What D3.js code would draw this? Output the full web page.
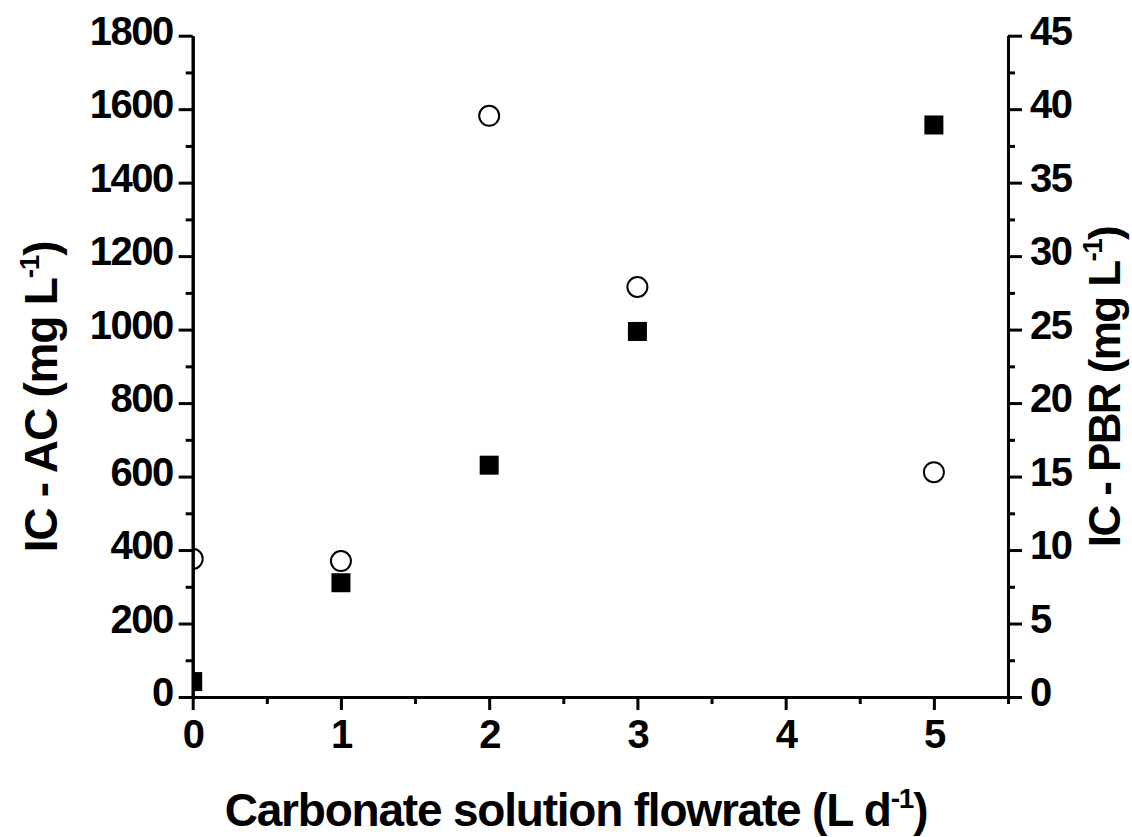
<!DOCTYPE html>
<html lang="en">
<head>
    <meta charset="UTF-8">
    <title>IC vs carbonate solution flowrate</title>
    <script src="https://d3js.org/d3.v7.min.js"></script>
</head>

<style>
    body {
        margin: 0;
        padding: 0;
        background: #fff;
    }

    svg {
        display: block;
        font-family: "Liberation Sans", Arial, sans-serif;
        font-weight: bold;
    }

    .axis path,
    .axis line {
        stroke: #000;
        stroke-width: 3px;
    }

    .axis text {
        font-size: 40px;
        letter-spacing: -1.5px;
        fill: #000;
    }

    .title {
        font-size: 46px;
        letter-spacing: -1.2px;
        fill: #000;
    }
</style>

<body>
<div class="chart"></div>

<script>
  /** data */
  var flowrate = [0, 1, 2, 3, 5];            // L d-1
  var icAC = [42, 311, 631, 995, 1557];      // mg L-1, left axis (squares)
  var icPBR = [9.4, 9.25, 39.55, 27.9, 15.3]; // mg L-1, right axis (circles)

  var xTicks = [0, 1, 2, 3, 4, 5];
  var xMinor = [0.5, 1.5, 2.5, 3.5, 4.5, 5.5];
  var leftTicks = [0, 200, 400, 600, 800, 1000, 1200, 1400, 1600, 1800];
  var leftMinor = [100, 300, 500, 700, 900, 1100, 1300, 1500, 1700];
  var rightTicks = [0, 5, 10, 15, 20, 25, 30, 35, 40, 45];
  var rightMinor = [2.5, 7.5, 12.5, 17.5, 22.5, 27.5, 32.5, 37.5, 42.5];

  /** LAYOUT */
  var width = 1132, height = 837;
  var margin = {top: 35.7, right: 124, bottom: 140, left: 192.7};
  var innerW = width - margin.left - margin.right;
  var innerH = height - margin.top - margin.bottom;

  var svg = d3.select('.chart').append('svg')
    .attr('width', width)
    .attr('height', height);

  var g = svg.append('g')
    .attr('transform', 'translate(' + margin.left + ',' + margin.top + ')');

  var x = d3.scaleLinear().domain([0, 5.5]).range([0, innerW]);
  var yLeft = d3.scaleLinear().domain([0, 1800]).range([innerH, 0]);
  var yRight = d3.scaleLinear().domain([0, 45]).range([innerH, 0]);

  /** clip so the points sitting on x = 0 are cut by the left axis */
  g.append('clipPath').attr('id', 'plotClip')
    .append('rect')
    .attr('width', innerW)
    .attr('height', innerH);

  var pts = g.append('g').attr('clip-path', 'url(#plotClip)');

  var sq = 19;
  pts.selectAll('rect.ac')
    .data(flowrate)
    .enter().append('rect')
    .classed('ac', true)
    .attr('x', function (d) { return x(d) - sq / 2; })
    .attr('y', function (d, i) { return yLeft(icAC[i]) - sq / 2; })
    .attr('width', sq)
    .attr('height', sq)
    .attr('fill', '#000');

  pts.selectAll('circle.pbr')
    .data(flowrate)
    .enter().append('circle')
    .classed('pbr', true)
    .attr('cx', function (d) { return x(d); })
    .attr('cy', function (d, i) { return yRight(icPBR[i]); })
    .attr('r', 10)
    .attr('fill', '#fff')
    .attr('stroke', '#000')
    .attr('stroke-width', 2);

  /** AXES - minor ticks first, majors with labels on top */
  function minor(axis, vals) {
    return axis.tickValues(vals).tickSizeOuter(0).tickFormat('');
  }

  g.append('g').attr('class', 'axis')
    .attr('transform', 'translate(0,' + innerH + ')')
    .call(minor(d3.axisBottom(x), xMinor).tickSizeInner(7));
  g.append('g').attr('class', 'axis')
    .call(minor(d3.axisLeft(yLeft), leftMinor).tickSizeInner(7));
  g.append('g').attr('class', 'axis')
    .attr('transform', 'translate(' + innerW + ',0)')
    .call(minor(d3.axisRight(yRight), rightMinor).tickSizeInner(7));

  var xAxis = g.append('g').attr('class', 'axis')
    .attr('transform', 'translate(0,' + innerH + ')')
    .call(d3.axisBottom(x).tickValues(xTicks).tickSizeInner(13).tickSizeOuter(0)
      .tickPadding(10).tickFormat(d3.format('d')));
  xAxis.selectAll('text').attr('dy', '0.71em');

  var leftAxis = g.append('g').attr('class', 'axis')
    .call(d3.axisLeft(yLeft).tickValues(leftTicks).tickSizeInner(14).tickSizeOuter(0)
      .tickPadding(6).tickFormat(d3.format('d')));
  leftAxis.selectAll('text').attr('dy', '0.22em');

  var rightAxis = g.append('g').attr('class', 'axis')
    .attr('transform', 'translate(' + innerW + ',0)')
    .call(d3.axisRight(yRight).tickValues(rightTicks).tickSizeInner(14).tickSizeOuter(0)
      .tickPadding(8).tickFormat(d3.format('d')));
  rightAxis.selectAll('text').attr('dy', '0.22em');

  /** TITLES with a raised "-1" */
  function title(sel, before, after) {
    sel.append('tspan').text(before);
    sel.append('tspan').attr('dy', -18).style('font-size', '28px').text('-1');
    sel.append('tspan').attr('dy', 18).text(after);
  }

  svg.append('text').attr('class', 'title')
    .attr('x', 576).attr('y', 826)
    .style('text-anchor', 'middle')
    .call(title, 'Carbonate solution flowrate (L d', ')');

  svg.append('text').attr('class', 'title')
    .attr('transform', 'translate(57,397) rotate(-90)')
    .style('text-anchor', 'middle')
    .call(title, 'IC - AC (mg L', ')');

  svg.append('text').attr('class', 'title')
    .attr('transform', 'translate(1120,387) rotate(-90)')
    .style('text-anchor', 'middle')
    .style('font-size', '44px')
    .style('letter-spacing', '-1.6px')
    .call(title, 'IC - PBR (mg L', ')');
</script>
</body>
</html>
